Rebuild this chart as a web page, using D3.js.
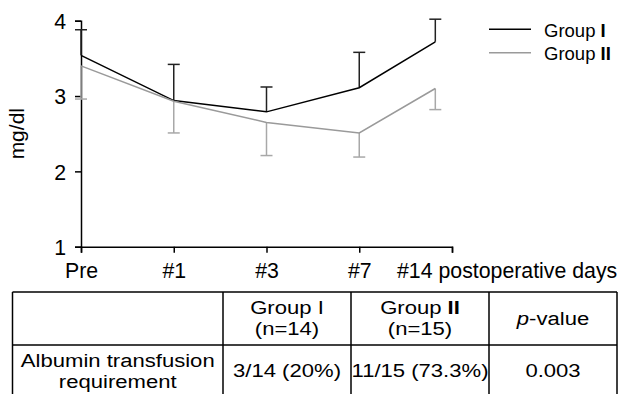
<!DOCTYPE html>
<html>
<head>
<meta charset="utf-8">
<script src="https://cdn.jsdelivr.net/npm/d3@7"></script>
<style>
  body { margin: 0; background: #fff; }
  svg { display: block; font-family: "Liberation Sans", Arial, sans-serif; }
</style>
</head>
<body>
<div id="chart"></div>
<script>
// données
const days = ["Pre", "#1", "#3", "#7", "#14"];
const group1Mean = [3.54, 2.94, 2.79, 3.11, 3.72];
const group1Upper = [3.88, 3.42, 3.12, 3.58, 4.02];
const group2Mean = [3.40, 2.93, 2.65, 2.51, 3.10];
const group2Lower = [2.96, 2.51, 2.21, 2.19, 2.82];
const yTicks = [1, 2, 3, 4];

// tableau sous le graphique
const tableHeader = [[""], ["Group I", "(n=14)"], ["Group II", "(n=15)"], ["p-value"]];
const tableRow = [["Albumin transfusion", "requirement"], ["3/14 (20%)"], ["11/15 (73.3%)"], ["0.003"]];

const width = 622;
const height = 394;

const svg = d3.select("#chart").append("svg")
    .attr("width", width)
    .attr("height", height);

// échelles
const x = d3.scaleLinear().domain([0, 4]).range([81, 452]);
const y = d3.scaleLinear().domain([1, 4]).range([246.7, 20.7]);
// le dernier point (#14) n'est pas sur la dernière graduation
const dataX = i => x(i < 4 ? i : 3.82);

// axes
const yAxis = svg.append("g")
    .attr("transform", `translate(${x(0)},0)`)
    .call(d3.axisLeft(y).tickValues(yTicks).tickFormat(d3.format("d")).tickSizeOuter(0).tickSize(6).tickPadding(9));

const xAxis = svg.append("g")
    .attr("transform", `translate(0,${y(1)})`)
    .call(d3.axisBottom(x).tickValues([0, 1, 2, 3, 4])
        .tickFormat(i => i < 4 ? days[i] : "")
        .tickSizeOuter(0).tickSize(6).tickPadding(10));

[yAxis, xAxis].forEach(g => {
    g.selectAll("path, line").attr("stroke", "#000").attr("stroke-width", 1.5);
    g.selectAll("text").attr("fill", "#000").attr("font-size", 21.3)
        .attr("font-family", "Liberation Sans, Arial, sans-serif");
});
yAxis.selectAll("text").attr("dy", "0.36em");
xAxis.selectAll("text").attr("dy", "0.7em");

svg.append("text")
    .attr("x", 397)
    .attr("y", 277.5)
    .attr("font-size", 21.3)
    .text(days[4] + " postoperative days");

svg.append("text")
    .attr("transform", `translate(24,${(y(1) + y(4)) / 2}) rotate(-90)`)
    .attr("text-anchor", "middle")
    .attr("font-size", 21)
    .text("mg/dl");

// séries
const series = [
    {name: "Group ", roman: "I", mean: group1Mean, err: group1Upper, color: "#000", errColor: "#222"},
    {name: "Group ", roman: "II", mean: group2Mean, err: group2Lower, color: "#9a9a9a", errColor: "#a8a8a8"}
];

const line = d3.line().x((d, i) => dataX(i)).y(d => y(d));

series.forEach(s => {
    const g = svg.append("g");
    // barres d'erreur
    s.mean.forEach((m, i) => {
        g.append("line")
            .attr("x1", dataX(i)).attr("x2", dataX(i))
            .attr("y1", y(m)).attr("y2", y(s.err[i]))
            .attr("stroke", s.errColor).attr("stroke-width", 1.5);
        g.append("line")
            .attr("x1", dataX(i) - 6).attr("x2", dataX(i) + 6)
            .attr("y1", y(s.err[i])).attr("y2", y(s.err[i]))
            .attr("stroke", s.errColor).attr("stroke-width", 1.5);
    });
    g.append("path")
        .datum(s.mean)
        .attr("d", line)
        .attr("fill", "none")
        .attr("stroke", s.color)
        .attr("stroke-width", 1.5);
});

// légende
const legend = svg.append("g").selectAll("g")
    .data(series)
    .enter().append("g")
    .attr("transform", (d, i) => `translate(489,${29.3 + i * 23.4})`);

legend.append("line")
    .attr("x1", 0).attr("x2", 42)
    .attr("stroke", d => d.color)
    .attr("stroke-width", 1.5);

const legendText = legend.append("text")
    .attr("x", 55)
    .attr("y", 7.5)
    .attr("font-size", 18.5);
legendText.append("tspan").text(d => d.name);
legendText.append("tspan").attr("font-weight", "bold").text(d => d.roman);

// tableau
const colEdges = [12.5, 223, 351, 489, 617];
const rowEdges = [292, 345, 400];
const sx = 1.24;
const tableFont = 17.8;

const table = svg.append("g");

// lignes horizontales
table.selectAll("line.h")
    .data(rowEdges.slice(0, 2))
    .enter().append("line")
    .attr("x1", colEdges[0]).attr("x2", colEdges[4])
    .attr("y1", d => d).attr("y2", d => d)
    .attr("stroke", "#000").attr("stroke-width", 1.5);

// lignes verticales
table.selectAll("line.v")
    .data(colEdges)
    .enter().append("line")
    .attr("x1", d => d).attr("x2", d => d)
    .attr("y1", rowEdges[0]).attr("y2", height)
    .attr("stroke", "#000").attr("stroke-width", 1.5);

function cellText(lines, col, rowTop, rowBottom) {
    const cx = (colEdges[col] + colEdges[col + 1]) / 2;
    const lh = 21;
    const mid = (rowTop + rowBottom) / 2;
    const first = mid - (lines.length - 1) * lh / 2 + 6;
    lines.forEach((t, k) => {
        const txt = table.append("text")
            .attr("transform", `translate(${cx},${first + k * lh}) scale(${sx},1)`)
            .attr("text-anchor", "middle")
            .attr("font-size", tableFont);
        if (t === "p-value") {
            txt.append("tspan").attr("font-style", "italic").text("p");
            txt.append("tspan").text("-value");
        } else if (t === "Group II") {
            txt.append("tspan").text("Group ");
            txt.append("tspan").attr("font-weight", "bold").text("II");
        } else {
            txt.text(t);
        }
    });
}

tableHeader.forEach((lines, c) => cellText(lines, c, 292, 345));
tableRow.forEach((lines, c) => cellText(lines, c, 345, 397));
</script>
</body>
</html>
